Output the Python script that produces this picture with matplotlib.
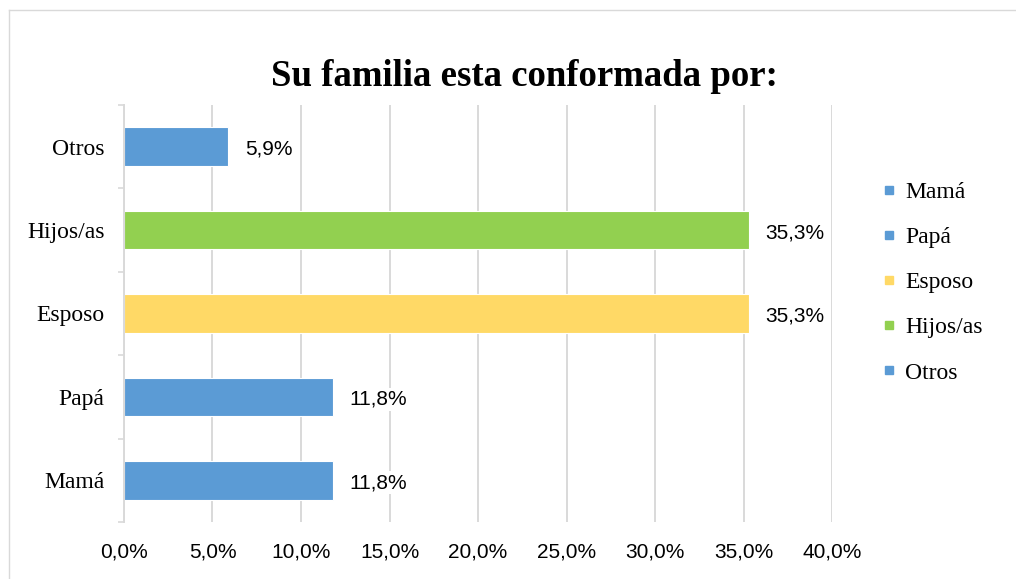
import matplotlib.pyplot as plt
from matplotlib.lines import Line2D

categorias = ["Mamá", "Papá", "Esposo", "Hijos/as", "Otros"]
valores = [11.8, 11.8, 35.3, 35.3, 5.9]
colores = ["#5B9BD5", "#5B9BD5", "#FFD966", "#92D050", "#5B9BD5"]
ticks_x = [0, 5, 10, 15, 20, 25, 30, 35, 40]

serif = ["Liberation Serif", "DejaVu Serif"]
sans = ["Liberation Sans", "DejaVu Sans"]


def fmt(v):
    return f"{v:.1f}%".replace(".", ",")


def main():
    fig = plt.figure(figsize=(10.16, 5.79), dpi=100)
    ax = fig.add_axes([0.122, 0.0984, 0.697, 0.7203])

    ax.barh(range(len(categorias)), valores, height=0.46, color=colores,
            edgecolor="white", linewidth=0.8, zorder=2)

    # etiquetas de datos con fondo blanco (cortan las líneas de la cuadrícula)
    for i, v in enumerate(valores):
        ax.text(v + 0.95, i - 0.03, fmt(v), va="center", ha="left", fontsize=15,
                family=sans, zorder=3,
                bbox=dict(facecolor="white", edgecolor="none", pad=1.5))

    ax.set_xlim(0, 40)
    ax.set_ylim(-0.5, 4.5)
    ax.set_xticks(ticks_x)
    ax.set_xticklabels([fmt(t) for t in ticks_x], family=sans, fontsize=15)
    ax.set_yticks(range(len(categorias)))
    ax.set_yticklabels(categorias, family=serif, fontsize=17)
    ax.set_yticks([i - 0.5 for i in range(len(categorias) + 1)], minor=True)

    ax.tick_params(axis="x", length=0, pad=15)
    ax.tick_params(axis="y", which="major", length=0, pad=14)
    ax.tick_params(axis="y", which="minor", length=4, width=1.2,
                   color="#D9D9D9", direction="out")

    ax.grid(axis="x", color="#D9D9D9", linewidth=1.4, zorder=0)
    ax.set_axisbelow(True)
    for s in ["top", "right", "bottom"]:
        ax.spines[s].set_visible(False)
    ax.spines["left"].set_color("#D9D9D9")
    ax.spines["left"].set_linewidth(1.4)

    fig.text(0.516, 0.868, "Su familia esta conformada por:", ha="center",
             va="center", fontsize=26.5, fontweight="bold", family=serif)

    handles = [Line2D([], [], marker="s", linestyle="none", markersize=6,
                      markerfacecolor=c, markeredgecolor=c) for c in colores]
    fig.legend(handles, categorias, loc="center left",
               bbox_to_anchor=(0.847, 0.512), frameon=False,
               prop={"family": serif, "size": 17}, handlelength=0.6,
               handletextpad=0.4, labelspacing=1.0)

    # borde del gráfico (solo izquierda y arriba visibles)
    fig.add_artist(Line2D([0.009, 0.009], [0.0, 0.983], color="#D9D9D9",
                          linewidth=1, transform=fig.transFigure))
    fig.add_artist(Line2D([0.009, 1.0], [0.983, 0.983], color="#D9D9D9",
                          linewidth=1, transform=fig.transFigure))

    fig.savefig("out.png", dpi=100)


if __name__ == "__main__":
    main()
